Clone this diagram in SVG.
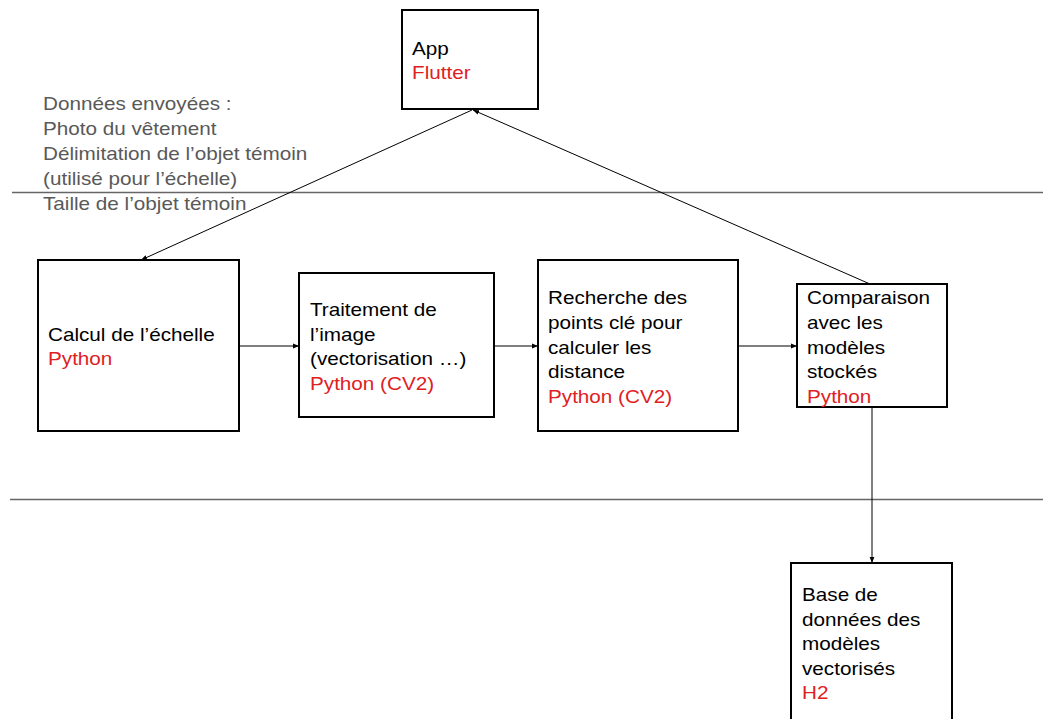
<svg xmlns="http://www.w3.org/2000/svg" width="1043" height="719" viewBox="0 0 1043 719">
<style>
.box{fill:#fff;stroke:#000;stroke-width:2}
.t{font-family:"Liberation Sans",Arial,sans-serif;font-size:18px;fill:#000}
.r{fill:#e0201f}
.g{fill:#595959}
.sep{stroke:#666;stroke-width:1.3;fill:none}
.c{stroke:#000;stroke-width:1;fill:none;marker-end:url(#ah)}
</style>
<defs>
<marker id="ah" viewBox="0 0 10 10" refX="10" refY="5" markerWidth="6" markerHeight="6" markerUnits="userSpaceOnUse" orient="auto">
<path d="M0,1 L10,5 L0,9 z" fill="#000"/>
</marker>
</defs>
<rect width="1043" height="719" fill="#fff"/>
<g id="separators">
<line class="sep" x1="12" y1="192.5" x2="1043" y2="192.5"/>
<line class="sep" x1="10" y1="499.5" x2="1043" y2="499.5"/>
</g>
<g id="note">
<text class="t g" transform="translate(43,0) scale(1.15,1)">
<tspan x="0" y="110">Données envoyées :</tspan>
<tspan x="0" y="135">Photo du vêtement</tspan>
<tspan x="0" y="160">Délimitation de l’objet témoin</tspan>
<tspan x="0" y="185">(utilisé pour l’échelle)</tspan>
<tspan x="0" y="210">Taille de l’objet témoin</tspan>
</text>
</g>
<g id="connectors">
<line class="c" x1="472" y1="110" x2="141" y2="260"/>
<line class="c" x1="870" y1="284" x2="473" y2="110"/>
<line class="c" x1="239" y1="346" x2="299" y2="346"/>
<line class="c" x1="494" y1="346" x2="538" y2="346"/>
<line class="c" x1="738" y1="346" x2="797" y2="346"/>
<line class="c" x1="872" y1="407" x2="872" y2="563"/>
</g>
<g id="app">
<rect class="box" x="402" y="10" width="136" height="99"/>
<text class="t" transform="translate(412,0) scale(1.15,1)"><tspan x="0" y="55">App</tspan><tspan class="r" x="0" y="79">Flutter</tspan></text>
</g>
<g id="calcul">
<rect class="box" x="38" y="260" width="201" height="171"/>
<text class="t" transform="translate(48,0) scale(1.15,1)"><tspan x="0" y="341">Calcul de l’échelle</tspan><tspan class="r" x="0" y="365">Python</tspan></text>
</g>
<g id="traitement">
<rect class="box" x="299" y="273" width="195" height="144"/>
<text class="t" transform="translate(310,0) scale(1.15,1)"><tspan x="0" y="316">Traitement de</tspan><tspan x="0" y="341">l’image</tspan><tspan x="0" y="365">(vectorisation …)</tspan><tspan class="r" x="0" y="390">Python (CV2)</tspan></text>
</g>
<g id="recherche">
<rect class="box" x="538" y="260" width="200" height="171"/>
<text class="t" transform="translate(548,0) scale(1.15,1)"><tspan x="0" y="304">Recherche des</tspan><tspan x="0" y="329">points clé pour</tspan><tspan x="0" y="354">calculer les</tspan><tspan x="0" y="378">distance</tspan><tspan class="r" x="0" y="403">Python (CV2)</tspan></text>
</g>
<g id="comparaison">
<rect class="box" x="797" y="284" width="150" height="123"/>
<text class="t" transform="translate(807,0) scale(1.15,1)"><tspan x="0" y="304">Comparaison</tspan><tspan x="0" y="329">avec les</tspan><tspan x="0" y="354">modèles</tspan><tspan x="0" y="378">stockés</tspan><tspan class="r" x="0" y="403">Python</tspan></text>
</g>
<g id="base">
<rect class="box" x="791" y="563" width="161" height="170"/>
<text class="t" transform="translate(802,0) scale(1.15,1)"><tspan x="0" y="601">Base de</tspan><tspan x="0" y="626">données des</tspan><tspan x="0" y="650">modèles</tspan><tspan x="0" y="675">vectorisés</tspan><tspan class="r" x="0" y="699">H2</tspan></text>
</g>
</svg>
